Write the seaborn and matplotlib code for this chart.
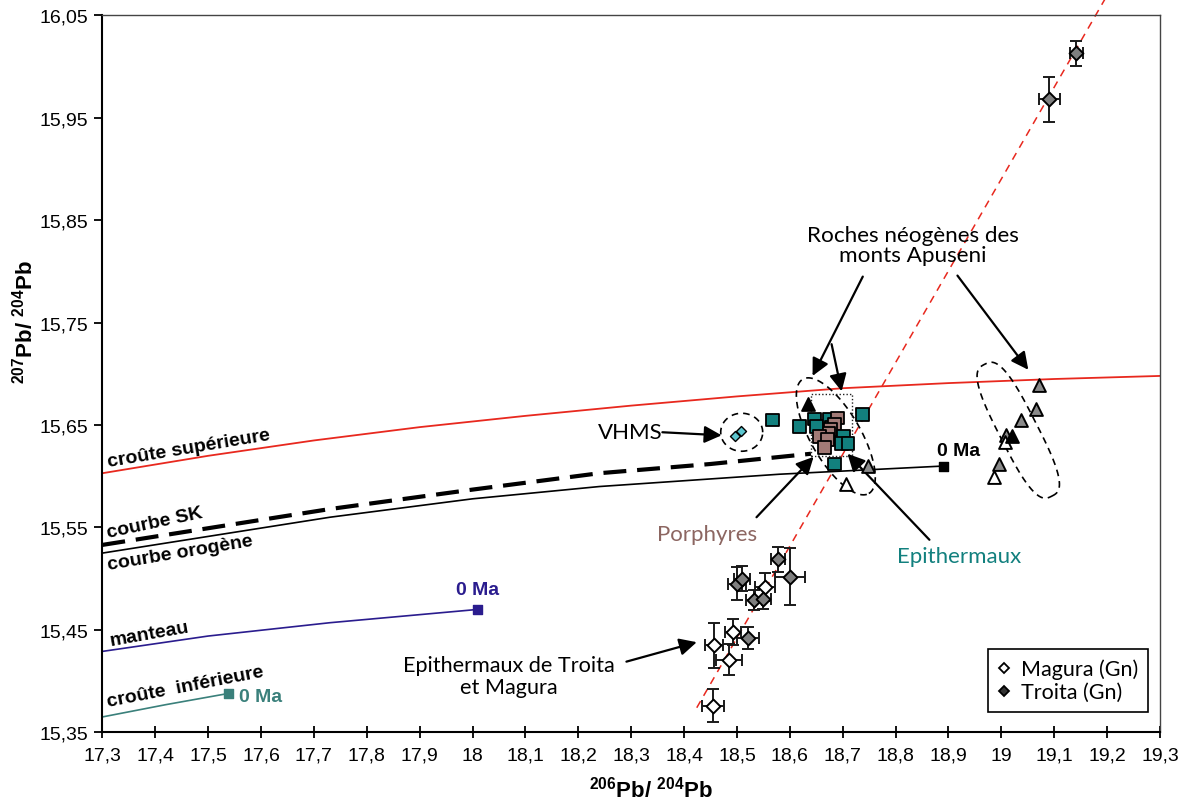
import numpy as np
import pandas as pd
import matplotlib
matplotlib.use('Agg')
import matplotlib.pyplot as plt
import seaborn as sns
from matplotlib.lines import Line2D
from matplotlib.ticker import FuncFormatter, FixedLocator

# --- courbes d'evolution ---
sup_x = [17.3, 17.5, 17.7, 17.9, 18.1, 18.3, 18.5, 18.7, 18.9, 19.1, 19.3]
sup_y = [15.603, 15.620, 15.635, 15.648, 15.659, 15.669, 15.678, 15.686, 15.691, 15.695, 15.698]
sk_x = [17.3, 17.73, 18.0, 18.24, 18.45, 18.64]
sk_y = [15.533, 15.568, 15.587, 15.603, 15.612, 15.622]
oro_x = [17.3, 17.73, 18.0, 18.24, 18.58, 18.89]
oro_y = [15.525, 15.560, 15.578, 15.590, 15.602, 15.610]
man_x = [17.3, 17.5, 17.73, 18.01]
man_y = [15.429, 15.444, 15.457, 15.470]
inf_x = [17.3, 17.42, 17.539]
inf_y = [15.365, 15.377, 15.388]

# droite de reference (tiretes rouges)
ref_x = [18.424, 19.196]
ref_y = [15.374, 16.066]

# --- galenes Troita / Magura avec erreurs ---
troita_x = [19.142, 19.091, 18.578, 18.600, 18.500, 18.510, 18.532, 18.549, 18.521]
troita_y = [16.013, 15.968, 15.519, 15.502, 15.495, 15.500, 15.479, 15.480, 15.442]
troita_xerr = [0.012, 0.020, 0.013, 0.028, 0.017, 0.015, 0.015, 0.015, 0.020]
troita_yerr = [0.012, 0.022, 0.012, 0.028, 0.016, 0.012, 0.010, 0.010, 0.011]

magura_x = [18.553, 18.493, 18.457, 18.485, 18.455]
magura_y = [15.492, 15.448, 15.435, 15.421, 15.376]
magura_xerr = [0.019, 0.015, 0.017, 0.025, 0.021]
magura_yerr = [0.014, 0.013, 0.022, 0.015, 0.016]

# --- Apuseni : porphyres / epithermaux ---
epi_x = [18.568, 18.619, 18.647, 18.650, 18.675, 18.738, 18.679]
epi_y = [15.655, 15.649, 15.656, 15.649, 15.656, 15.660, 15.648]
por_x = [18.690, 18.685, 18.677, 18.674, 18.656, 18.671, 18.666]
por_y = [15.657, 15.651, 15.646, 15.642, 15.639, 15.636, 15.628]
epi2_x = [18.701, 18.698, 18.710, 18.684]
epi2_y = [15.639, 15.632, 15.632, 15.612]

vhms_x = [18.496, 18.507]
vhms_y = [15.639, 15.644]

# roches neogenes (triangles)
tri_gray_x = [19.072, 19.065, 19.038, 19.009, 18.995, 18.748]
tri_gray_y = [15.689, 15.666, 15.655, 15.640, 15.612, 15.610]
tri_white_x = [19.006, 18.986, 18.707]
tri_white_y = [15.633, 15.599, 15.592]
tri_black_x = [19.021, 18.634]
tri_black_y = [15.639, 15.671]

# "0 Ma" end points
end_x = [18.89, 18.01, 17.539]
end_y = [15.610, 15.470, 15.388]

RED = '#e8281e'
NAVY = '#2a1c8e'
TEAL_LINE = '#3a807b'
TEAL = '#12807e'
BROWN = '#a27a76'

sns.set_style('ticks')
plt.rcParams['font.family'] = ['Liberation Sans', 'DejaVu Sans']
plt.rcParams['mathtext.fontset'] = 'custom'
plt.rcParams['mathtext.rm'] = 'Liberation Sans'
plt.rcParams['mathtext.bf'] = 'Liberation Sans:bold'
for k in ['text.color', 'axes.labelcolor', 'xtick.color', 'ytick.color']:
    plt.rcParams[k] = 'black'
ANN = ['Lato', 'DejaVu Sans']

fig = plt.figure(figsize=(11.88, 8.03), dpi=100)
ax = fig.add_axes([0.0862, 0.0868, 0.8902, 0.8927])

# courbes
sns.lineplot(x=sup_x, y=sup_y, color=RED, lw=1.3, sort=False, estimator=None, ax=ax)
sns.lineplot(x=oro_x, y=oro_y, color='black', lw=1.2, sort=False, estimator=None, ax=ax)
sns.lineplot(x=sk_x, y=sk_y, color='black', lw=3.0, linestyle=(0, (5.5, 2.6)),
             sort=False, estimator=None, ax=ax)
sns.lineplot(x=man_x, y=man_y, color=NAVY, lw=1.2, sort=False, estimator=None, ax=ax)
sns.lineplot(x=inf_x, y=inf_y, color=TEAL_LINE, lw=1.2, sort=False, estimator=None, ax=ax)
ax.plot(ref_x, ref_y, color=RED, lw=1.1, linestyle=(0, (5, 4)), clip_on=False, zorder=2)

ax.scatter(end_x, end_y, marker='s', s=42, c=['black', NAVY, TEAL_LINE], zorder=3)

# triangles
sns.scatterplot(x=tri_gray_x, y=tri_gray_y, marker='^', s=85, color='#8a8a8a',
                edgecolor='black', linewidth=1.4, ax=ax, zorder=4)
sns.scatterplot(x=tri_white_x, y=tri_white_y, marker='^', s=85, color='white',
                edgecolor='black', linewidth=1.4, ax=ax, zorder=4)
sns.scatterplot(x=tri_black_x, y=tri_black_y, marker='^', s=85, color='black',
                edgecolor='black', linewidth=1.4, ax=ax, zorder=4)

# carres Apuseni
sq = pd.DataFrame({
    'x': epi_x + por_x + epi2_x,
    'y': epi_y + por_y + epi2_y,
    'groupe': ['Epithermaux'] * len(epi_x) + ['Porphyres'] * len(por_x) + ['Epithermaux'] * len(epi2_x),
})
sns.scatterplot(data=sq, x='x', y='y', hue='groupe', palette={'Epithermaux': TEAL, 'Porphyres': BROWN},
                marker='s', s=85, edgecolor='black', linewidth=1.3, legend=False, ax=ax, zorder=5)

sns.scatterplot(x=vhms_x, y=vhms_y, marker='D', s=26, color='#5cc6cf',
                edgecolor='black', linewidth=1.0, ax=ax, zorder=5)

# galenes avec barres d'erreur
ax.errorbar(magura_x, magura_y, xerr=magura_xerr, yerr=magura_yerr, fmt='none',
            ecolor='#1a1a1a', elinewidth=1.4, capsize=4, capthick=1.4, zorder=6)
ax.errorbar(troita_x, troita_y, xerr=troita_xerr, yerr=troita_yerr, fmt='none',
            ecolor='#1a1a1a', elinewidth=1.4, capsize=4, capthick=1.4, zorder=6)
sns.scatterplot(x=magura_x, y=magura_y, marker='D', s=50, color='white',
                edgecolor='black', linewidth=1.4, ax=ax, zorder=7)
sns.scatterplot(x=troita_x, y=troita_y, marker='D', s=50, color='#7f7f7f',
                edgecolor='black', linewidth=1.4, ax=ax, zorder=7)


def dashed_loop(center, half_len, half_wid, angle, n=2.0, ls=(0, (4, 3)), lw=1.2):
    # closed shape built in display pixels then mapped back to data
    cx, cy = ax.transData.transform(center)
    t = np.linspace(0, 2 * np.pi, 200)
    c, s = np.cos(t), np.sin(t)
    u = half_len * np.sign(c) * np.abs(c) ** (2 / n)
    v = half_wid * np.sign(s) * np.abs(s) ** (2 / n)
    a = np.radians(angle)
    px = cx + u * np.cos(a) - v * np.sin(a)
    py = cy + u * np.sin(a) + v * np.cos(a)
    pts = ax.transData.inverted().transform(np.column_stack([px, py]))
    ax.plot(pts[:, 0], pts[:, 1], color='black', lw=lw, linestyle=ls, zorder=3)


ax.set_xlim(17.3, 19.3)
ax.set_ylim(15.35, 16.05)

dashed_loop((18.509, 15.643), 21, 19, 0)
dashed_loop((18.687, 15.639), 66, 25, -60)
dashed_loop((19.032, 15.645), 74, 19, -63, n=3)
ax.plot([18.641, 18.717, 18.717, 18.641, 18.641], [15.620, 15.620, 15.680, 15.680, 15.620],
        color='#222222', lw=1.0, linestyle=(0, (1, 1.5)), zorder=3)

# etiquettes des courbes
lab = dict(fontsize=14, fontweight='bold', ha='left', va='baseline', rotation_mode='anchor')
ax.text(17.311, 15.610, 'croûte supérieure', rotation=9.5, **lab)
ax.text(17.311, 15.541, 'courbe SK', rotation=12, **lab)
ax.text(17.311, 15.509, 'courbe orogène', rotation=9.5, **lab)
ax.text(17.315, 15.435, 'manteau', rotation=10, **lab)
ax.text(17.311, 15.376, 'croûte  inférieure', rotation=11, **lab)

ax.text(18.919, 15.625, '0 Ma', fontsize=14, fontweight='bold', ha='center', va='center')
ax.text(18.010, 15.489, '0 Ma', fontsize=14, fontweight='bold', color=NAVY, ha='center', va='center')
ax.text(17.558, 15.385, '0 Ma', fontsize=14, fontweight='bold', color=TEAL_LINE, ha='left', va='center')

arrow = dict(arrowstyle='-|>', color='black', lw=1.6, mutation_scale=26, shrinkA=0, shrinkB=0)
ax.annotate('', xy=(18.643, 15.698), xytext=(18.738, 15.795), arrowprops=arrow)
ax.annotate('', xy=(18.698, 15.683), xytext=(18.679, 15.729), arrowprops=arrow)
ax.annotate('', xy=(19.051, 15.704), xytext=(18.917, 15.796), arrowprops=arrow)
ax.text(18.832, 15.826, 'Roches néogènes des\nmonts Apuseni', family=ANN, fontsize=16.2,
        ha='center', va='center', linespacing=1.0)

ax.annotate('', xy=(18.471, 15.640), xytext=(18.359, 15.643), arrowprops=arrow)
ax.text(18.298, 15.643, 'VHMS', family=ANN, fontsize=16, ha='center', va='center')

ax.annotate('', xy=(18.645, 15.619), xytext=(18.537, 15.560), arrowprops=arrow)
ax.text(18.443, 15.544, 'Porphyres', family=ANN, fontsize=16, color='#8c6661', ha='center', va='center')

ax.annotate('', xy=(18.709, 15.622), xytext=(18.864, 15.538), arrowprops=arrow)
ax.text(18.921, 15.522, 'Epithermaux', family=ANN, fontsize=16, color=TEAL, ha='center', va='center')

ax.annotate('', xy=(18.424, 15.438), xytext=(18.291, 15.419), arrowprops=arrow)
ax.text(18.069, 15.405, 'Epithermaux de Troita\net Magura', family=ANN, fontsize=15.6,
        ha='center', va='center', linespacing=1.1)

# axes
xt = np.round(np.arange(17.3, 19.301, 0.1), 1)
yt = np.round(np.arange(15.35, 16.051, 0.1), 2)
ax.xaxis.set_major_locator(FixedLocator(xt))
ax.yaxis.set_major_locator(FixedLocator(yt))


def fmt_x(v, pos):
    s = f'{v:.1f}'
    if s.endswith('.0'):
        s = s[:-2]
    return s.replace('.', ',')


ax.xaxis.set_major_formatter(FuncFormatter(fmt_x))
ax.yaxis.set_major_formatter(FuncFormatter(lambda v, p: f'{v:.2f}'.replace('.', ',')))
ax.tick_params(axis='x', direction='inout', length=9, width=1.3, labelsize=14, pad=6)
ax.tick_params(axis='y', direction='out', length=6, width=1.3, labelsize=14, pad=4)

for side in ['left', 'bottom']:
    ax.spines[side].set_linewidth(1.5)
    ax.spines[side].set_color('black')
for side in ['right', 'top']:
    ax.spines[side].set_linewidth(1.0)
    ax.spines[side].set_color('#444444')

ax.set_xlabel(r'$^{\mathbf{206}}$Pb/ $^{\mathbf{204}}$Pb', fontsize=16, fontweight='bold')
ax.set_ylabel(r'$^{\mathbf{207}}$Pb/ $^{\mathbf{204}}$Pb', fontsize=16, fontweight='bold')
ax.xaxis.set_label_coords(0.519, -0.06)
ax.yaxis.set_label_coords(-0.061, 0.574)

handles = [
    Line2D([], [], marker='D', ls='none', ms=5, mfc='white', mec='black', mew=1.3, label='Magura (Gn)'),
    Line2D([], [], marker='D', ls='none', ms=5, mfc='#333333', mec='black', mew=1.3, label='Troita (Gn)'),
]
leg = ax.legend(handles=handles, loc='lower right', bbox_to_anchor=(0.9887, 0.0283), borderaxespad=0,
                fancybox=False, edgecolor='black', framealpha=1, handlelength=0.6, handletextpad=0.5,
                borderpad=0.45, labelspacing=0.15, prop={'family': ANN, 'size': 15.5})
leg.get_frame().set_linewidth(1.2)

fig.savefig('out.png', dpi=100)
